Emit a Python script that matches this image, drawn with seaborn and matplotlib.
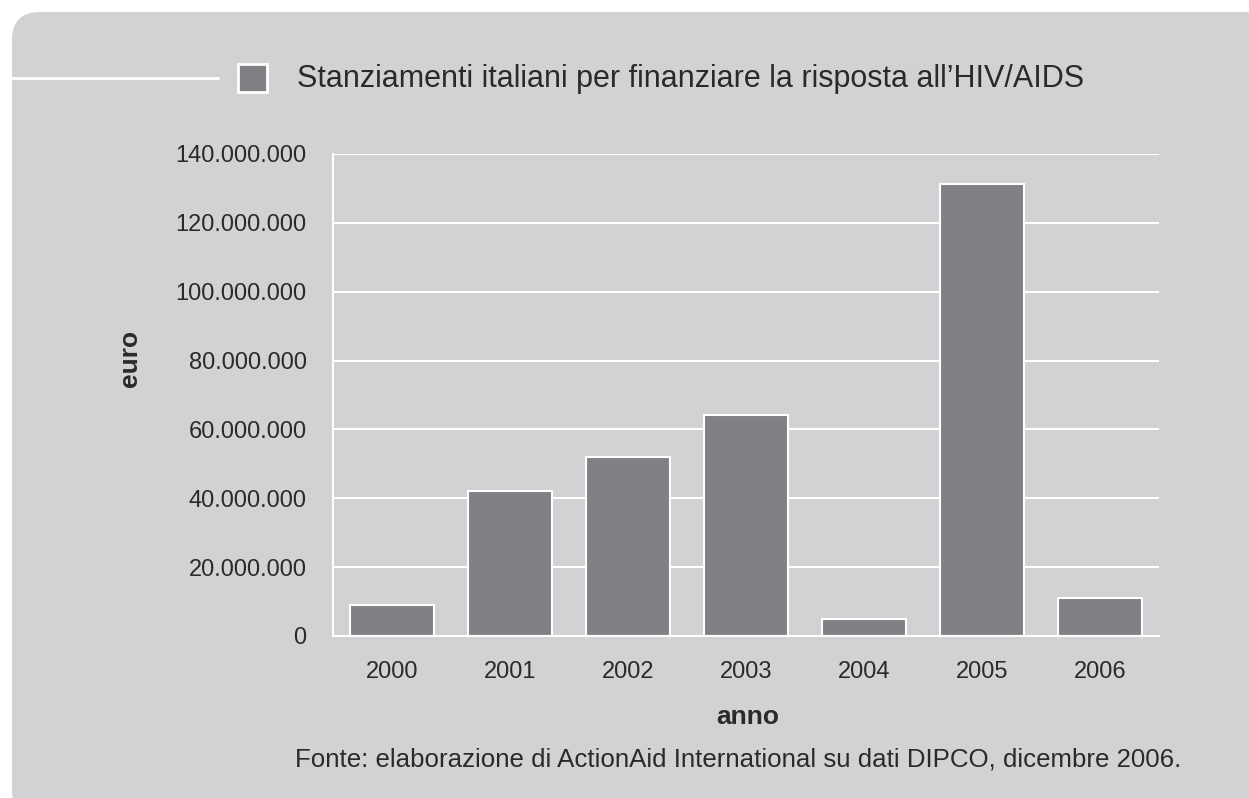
import matplotlib
matplotlib.use("Agg")
import matplotlib.pyplot as plt
import matplotlib.ticker as mticker
from matplotlib.patches import FancyBboxPatch, Rectangle
from matplotlib.lines import Line2D
from matplotlib.transforms import IdentityTransform
import seaborn as sns

anni = ["2000", "2001", "2002", "2003", "2004", "2005", "2006"]
stanziamenti = [9000000, 42100000, 52100000, 64200000, 4900000, 131400000, 11000000]
y_ticks = [0, 20000000, 40000000, 60000000, 80000000, 100000000, 120000000, 140000000]

titolo = "Stanziamenti italiani per finanziare la risposta all\u2019HIV/AIDS"
fonte = "Fonte: elaborazione di ActionAid International su dati DIPCO, dicembre 2006."

bg = "#d1d2d4"
bar_col = "#808184"
txt = "#2a2a2a"

sns.set_style("white", {"axes.facecolor": bg})
plt.rcParams["font.family"] = ["Liberation Sans", "DejaVu Sans"]

fig = plt.figure(figsize=(12.49, 7.98), dpi=100, facecolor="white")

# rounded grey panel (pixel coordinates)
panel = FancyBboxPatch((12, -20), 1260, 806, boxstyle="round,pad=0,rounding_size=28",
                       facecolor=bg, edgecolor="none", transform=IdentityTransform(), zorder=0)
fig.add_artist(panel)

ax = fig.add_axes([333 / 1249, 162 / 798, 826 / 1249, 482 / 798])
ax.set_facecolor(bg)

sns.barplot(x=anni, y=stanziamenti, color=bar_col, edgecolor="white", linewidth=1.5,
            width=0.72, saturation=1, ax=ax, zorder=3)

ax.set_xlim(-0.5, len(anni) - 0.5)
ax.set_ylim(0, 140000000)
ax.set_yticks(y_ticks)
ax.yaxis.set_major_formatter(mticker.FuncFormatter(lambda v, p: f"{int(v):,}".replace(",", ".")))
ax.grid(axis="y", color="white", linewidth=1.5, zorder=1)
ax.set_axisbelow(True)

for s in ["top", "right"]:
    ax.spines[s].set_visible(False)
for s in ["left", "bottom"]:
    ax.spines[s].set_color("white")
    ax.spines[s].set_linewidth(1.5)
    ax.spines[s].set_zorder(4)

ax.tick_params(axis="y", length=0, pad=19, labelsize=17, labelcolor=txt)
ax.tick_params(axis="x", which="major", length=0, pad=18, labelsize=17, labelcolor=txt)
ax.set_xticks([i + 0.5 for i in range(len(anni))], minor=True)
ax.tick_params(axis="x", which="minor", direction="in", length=8.5, width=1.5, color="white")
ax.set_xlabel("")
ax.set_ylabel("")

# labels
fig.text(130 / 1249, 1 - 358 / 798, "euro", rotation=90, ha="center", va="center",
         fontsize=19, fontweight="bold", color=txt)
fig.text(748 / 1249, 1 - 717 / 798, "anno", ha="center", va="center",
         fontsize=19, fontweight="bold", color=txt)

# header: white line, square marker, title
fig.add_artist(Line2D([12, 218], [720, 720], color="white", linewidth=2, transform=IdentityTransform()))
fig.add_artist(Rectangle((238, 706), 29, 28, facecolor=bar_col, edgecolor="white", linewidth=2,
                         transform=IdentityTransform()))
fig.text(297 / 1249, 1 - 87 / 798, titolo, ha="left", va="baseline", fontsize=22, color=txt)

fig.text(1181 / 1249, 1 - 767 / 798, fonte, ha="right", va="baseline", fontsize=18.6, color=txt)

fig.savefig("out.png", dpi=100, facecolor="white")
